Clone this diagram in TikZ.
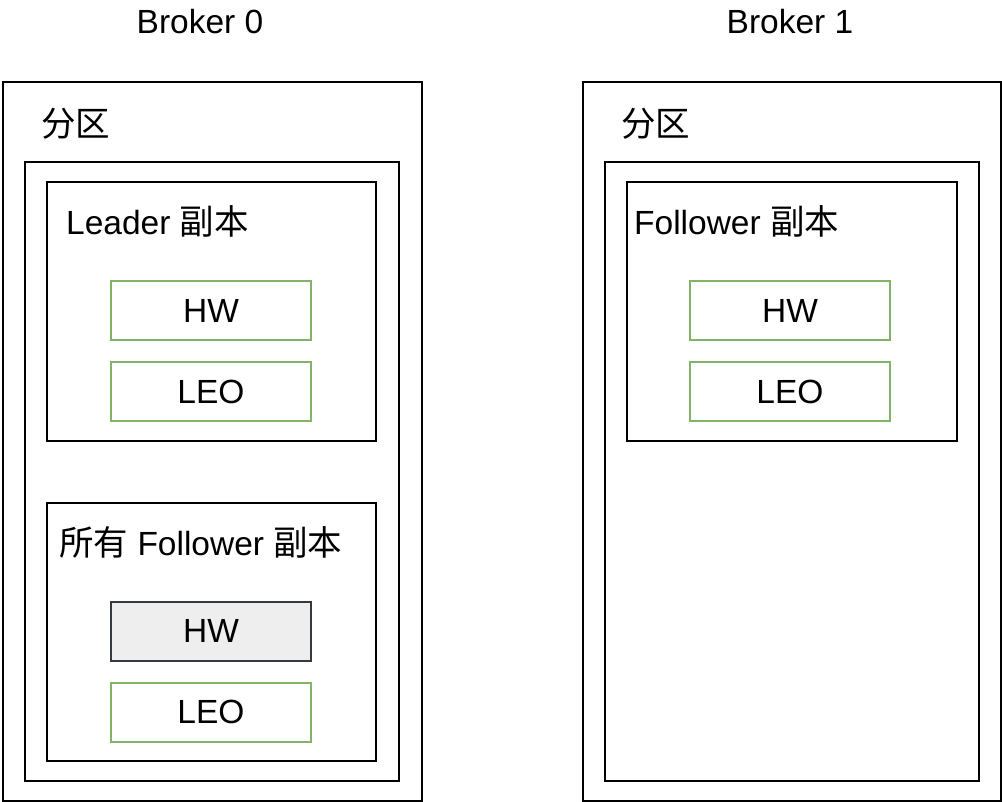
\documentclass[tikz,border=0pt]{standalone}
\usepackage{fontspec}
\setmainfont{Liberation Sans}
\newfontfamily\cjk{Noto Sans CJK SC}[Scale=1.03]
\usetikzlibrary{positioning}
\definecolor{LeafGreen}{HTML}{82B366}
\definecolor{SlateGrey}{HTML}{36393D}
\definecolor{PaleGrey}{HTML}{EEEEEE}
\newcommand\bigfont{\fontsize{33.5}{40}\selectfont}

\begin{document}
\begin{tikzpicture}[x=1pt, y=-1pt,
    frame/.style={draw=black, line width=2pt, anchor=north west, inner sep=0pt},
    cell/.style={draw=LeafGreen, fill=white, line width=2pt, minimum width=200pt, minimum height=59pt, inner sep=0pt, font=\bigfont},
    greycell/.style={cell, draw=SlateGrey, fill=PaleGrey},
    label/.style={anchor=west, inner sep=0pt, font=\bigfont}
  ]
    \useasboundingbox (0,0) rectangle (1002,802);
    % broker 0
    \node[font=\bigfont] (b0title) at (200,22) {Broker 0};
    \node[frame, minimum width=419pt, minimum height=718pt] (b0outer) at (2,81.5) {};
    \node[label] (b0part) at (41,124) {\cjk 分区};
    \node[frame, minimum width=374pt, minimum height=618pt] (b0inner) at (24,161.5) {};
    \node[frame, minimum width=329pt, minimum height=258pt] (leader) at (46,181.5) {};
    \node[label] (leadertext) at (66,221) {Leader {\cjk 副本}};
    \node[cell] (leaderhw) at (211,311) {HW};
    \node[cell, below=20pt of leaderhw] (leaderleo) {LEO};
    \node[frame, minimum width=329pt, minimum height=258pt] (allfollow) at (46,501.5) {};
    \node[label] (allfollowtext) at (59,542) {{\cjk 所有}\ Follower {\cjk 副本}};
    \node[greycell] (allfollowhw) at (211,631) {HW};
    \node[cell, below=20pt of allfollowhw] (allfollowleo) {LEO};
    % broker 1
    \node[font=\bigfont] (b1title) at (790,22) {Broker 1};
    \node[frame, minimum width=418pt, minimum height=718pt] (b1outer) at (582,81.5) {};
    \node[label] (b1part) at (621,124) {\cjk 分区};
    \node[frame, minimum width=374pt, minimum height=618pt] (b1inner) at (604,161.5) {};
    \node[frame, minimum width=330pt, minimum height=258pt] (follower) at (626,181.5) {};
    \node[label] (followertext) at (634,221) {Follower {\cjk 副本}};
    \node[cell] (followerhw) at (790,311) {HW};
    \node[cell, below=20pt of followerhw] (followerleo) {LEO};
  \end{tikzpicture}
\end{document}
